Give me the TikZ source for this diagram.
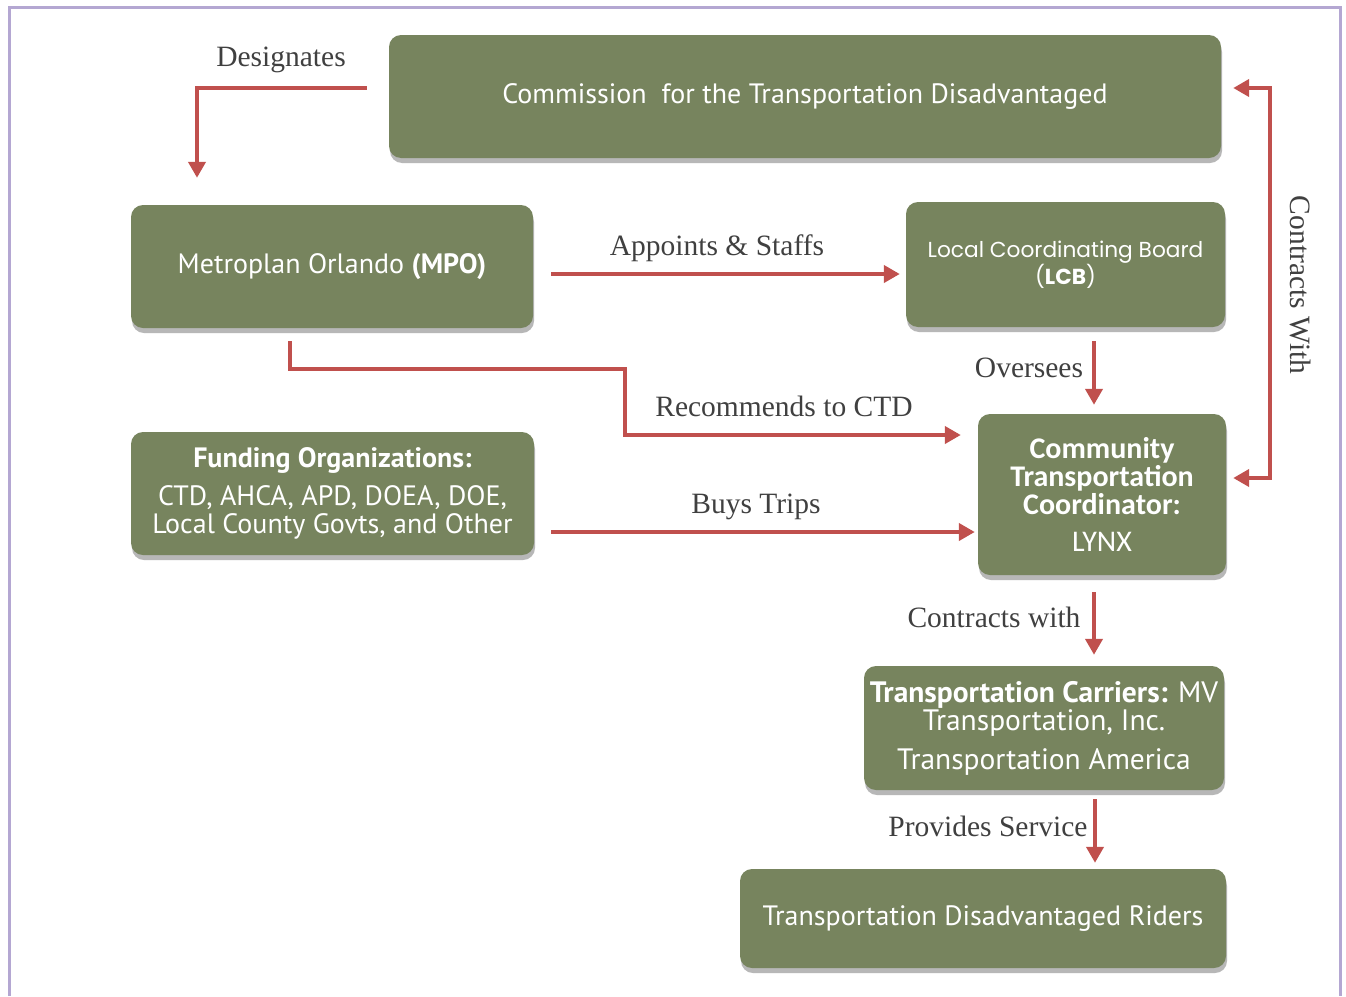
\documentclass[tikz,border=0pt]{standalone}
\usepackage{fontspec}
\setmainfont{Liberation Serif}
\newfontfamily\boxfont{PT Sans}
\newfontfamily\lcbfont{Poppins}
\newfontfamily\ctcfont{Carlito}
\usetikzlibrary{arrows.meta,calc,shadows}
\definecolor{boxgreen}{RGB}{119,132,94}
\definecolor{arrred}{RGB}{192,80,77}
\definecolor{labgray}{RGB}{64,64,64}
\definecolor{framepurple}{RGB}{180,167,210}
\tikzset{
  gbox/.style={draw=none, fill=boxgreen, rounded corners=12pt, inner sep=0pt,
    text=white, align=center, font=\boxfont\fontsize{28}{28}\selectfont,
    drop shadow={opacity=0.4, shadow xshift=1pt, shadow yshift=-5pt, fill=black!70}},
  arr/.style={draw=arrred, line width=4.5pt, line join=miter,
    -{Triangle[length=16pt,width=17pt]}},
  arrboth/.style={draw=arrred, line width=4.5pt, line join=miter,
    {Triangle[length=16pt,width=17pt]}-{Triangle[length=16pt,width=17pt]}},
  lab/.style={text=labgray, inner sep=0pt, font=\fontsize{29.5}{32}\selectfont}
}
\begin{document}
\begin{tikzpicture}[x=1pt,y=-1pt]
\useasboundingbox (0,0) rectangle (1346,996);
\fill[white] (0,0) rectangle (1346,996);
% frame
\draw[framepurple, line width=3pt] (9,996) -- (9,7.5) -- (1340.5,7.5) -- (1340.5,996);

% boxes
\node[gbox, minimum width=832pt, minimum height=123pt] (ctd) at (805,96.5)
  {Commission\ \ for the Transportation Disadvantaged};
\node[gbox, minimum width=402pt, minimum height=123pt] (mpo) at (332,266.5)
  {Metroplan Orlando \textbf{(MPO)}};
\node[gbox, minimum width=319pt, minimum height=125pt,
  font=\lcbfont\fontsize{21.7}{25}\selectfont] (lcb) at (1065.5,264.5)
  {Local Coordinating Board\\(\textbf{LCB})};
\node[gbox, minimum width=248pt, minimum height=161pt,
  font=\ctcfont\fontsize{30}{28}\selectfont] (ctc) at (1102,494.5)
  {\textbf{Community}\\\textbf{Transportation}\\\textbf{Coordinator:}\\[9pt]LYNX};
\node[gbox, minimum width=403pt, minimum height=123pt] (fund) at (332.5,493.5)
  {\textbf{Funding Organizations:}\\[10pt]CTD, AHCA, APD, DOEA, DOE,\\Local County Govts, and Other};
\node[gbox, minimum width=360pt, minimum height=124pt,
  font=\boxfont\fontsize{29.5}{28}\selectfont] (carr) at (1044,728)
  {\textbf{Transportation Carriers:} MV\\Transportation, Inc.\\[11pt]Transportation America};
\node[gbox, minimum width=486pt, minimum height=99pt] (ride) at (983,918.5)
  {Transportation Disadvantaged Riders};

% connectors
\draw[arr] ($(ctd.west)+(-22,-8.5)$) -| ($(mpo.north)+(-135,-27)$);
\draw[arr] ($(mpo.east)+(18,7.5)$) -- ($(lcb.west)+(-6,9.5)$);
\draw[arr] ($(mpo.south)+(-42,13)$) |- ($(mpo.south)+(293,41)$) |- ($(ctc.west)+(-17,-59.5)$);
\draw[arr] ($(fund.east)+(17,38.5)$) -- ($(ctc.west)+(-3,37.5)$);
\draw[arr] ($(lcb.south)+(28.5,14)$) -- ($(ctc.north)+(-8,-9)$);
\draw[arrboth] ($(ctd.east)+(12,-8.5)$) -| ($(ctc.east)+(44,-16.5)$) -- ($(ctc.east)+(7,-16.5)$);
\draw[arr] ($(ctc.south)+(-8,17)$) -- ($(carr.north)+(50,-11)$);
\draw[arr] ($(carr.south)+(51,9)$) -- ($(ride.north)+(112,-6)$);

% labels
\node[lab] (l1) at (281,60) {Designates};
\node[lab] (l2) at (717,248) {Appoints \& Staffs};
\node[lab] (l3) at (784,406) {Recommends to CTD};
\node[lab] (l4) at (756,507) {Buys Trips};
\node[lab] (l5) at (1029,368) {Oversees};
\node[lab, rotate=-90] (l6) at (1300,285) {Contracts With};
\node[lab] (l7) at (994,617) {Contracts with};
\node[lab] (l8) at (988,826) {Provides Service};
\end{tikzpicture}
\end{document}
